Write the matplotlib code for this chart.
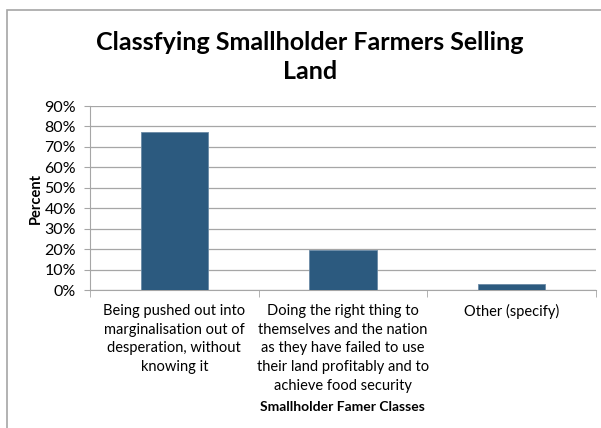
import matplotlib
matplotlib.use("Agg")
import matplotlib.pyplot as plt
from matplotlib.patches import Rectangle
from matplotlib.ticker import PercentFormatter

classes = [
    "Being pushed out into\nmarginalisation out of\ndesperation, without\nknowing it",
    "Doing the right thing to\nthemselves and the nation\nas they have failed to use\ntheir land profitably and to\nachieve food security",
    "Other (specify)",
]
percent = [77.3, 19.5, 2.9]

plt.rcParams['font.family'] = ['Lato', 'DejaVu Sans']

fig = plt.figure(figsize=(6.01, 4.28), dpi=100)
fig.patches.append(Rectangle((7 / 601, -0.1), 1.1, 1 - 10 / 428 + 0.1,
                             transform=fig.transFigure, fill=False,
                             edgecolor='#a6a6a6', linewidth=1.2))

ax = fig.add_axes([90 / 601, 1 - 290 / 428, 506 / 601, 184 / 428])
pos = range(len(classes))
ax.bar(pos, percent, width=0.4, color='#2c5a7f', edgecolor='#6a8aa6',
       linewidth=0.6, zorder=3)

ax.set_xlim(-0.5, 2.5)
ax.set_ylim(0, 90)
ax.set_yticks(range(0, 91, 10))
ax.yaxis.set_major_formatter(PercentFormatter(decimals=0))
ax.grid(axis='y', color='#a6a6a6', linewidth=0.9, zorder=0)

ax.set_xticks(list(pos))
ax.set_xticklabels(classes, fontsize=10.5, linespacing=1.43)
ax.set_xticks([-0.5, 0.5, 1.5, 2.5], minor=True)
ax.tick_params(axis='x', which='major', length=0, pad=10)
ax.tick_params(axis='x', which='minor', length=5, color='#a6a6a6', direction='out')
ax.tick_params(axis='y', labelsize=11.5, length=4, color='#a6a6a6', pad=6)

for s in ['top', 'right']:
    ax.spines[s].set_visible(False)
for s in ['left', 'bottom']:
    ax.spines[s].set_color('#a6a6a6')

ax.set_ylabel("Percent", fontsize=10.5, fontweight='bold', labelpad=1)
fig.text(342 / 601, 1 - 407 / 428, "Smallholder Famer Classes", fontsize=10,
         fontweight='bold', ha='center', va='center')
fig.text(310 / 601, 1 - 57 / 428, "Classfying Smallholder Farmers Selling\nLand",
         fontsize=18, fontweight='bold', ha='center', va='center', linespacing=1.35)

fig.savefig("out.png", dpi=100)
